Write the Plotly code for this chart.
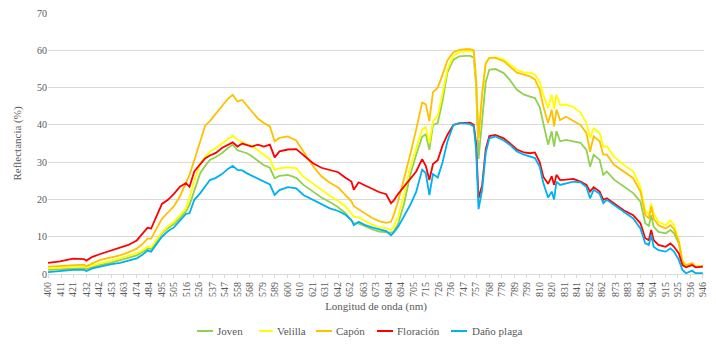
import plotly.graph_objects as go

wavelength = [400, 410, 421, 430, 432, 437, 443, 452, 460, 467, 474, 479, 483, 486, 490, 495,
              500, 505, 510, 515, 518, 522, 527, 531, 535, 540, 545, 550, 554, 558, 562, 566,
              570, 575, 580, 585, 589, 593, 600, 607, 613, 621, 628, 635, 642, 648, 653, 655,
              659, 664, 670, 676, 682, 686, 688, 692, 697, 702, 707, 712, 715, 718, 721, 725,
              729, 733, 738, 743, 748, 752, 755, 757, 759, 762, 765, 768, 773, 780, 785, 791,
              797, 802, 806, 810, 813, 817, 820, 822, 824, 827, 832, 838, 844, 849, 852, 855,
              860, 863, 866, 872, 880, 888, 894, 898, 901, 903, 905, 909, 915, 919, 922, 926,
              929, 932, 937, 940, 946]

joven = [1.1, 1.3, 1.5, 1.6, 1.3, 1.8, 2.4, 3.0, 3.7, 4.3, 5.0, 5.9, 6.8, 6.7, 8.7, 10.9,
         12.3, 13.4, 15.0, 16.8, 18.5, 22.5, 27.1, 29.0, 30.6, 31.4, 32.4, 33.8, 34.7, 33.2, 32.8, 32.4,
         31.6, 30.3, 29.2, 28.5, 25.7, 26.3, 26.6, 25.8, 23.9, 22.1, 20.5, 19.3, 17.9, 16.3, 14.5, 13.6,
         13.6, 12.9, 12.0, 11.4, 11.2, 11.1, 11.3, 13.5, 19.0, 26.5, 32.0, 36.8, 37.5, 33.3, 40.0, 40.5,
         46.5, 54.0, 57.5, 58.4, 58.5, 58.5, 58.0, 50.3, 30.9, 40.5, 51.5, 54.8, 55.0, 53.9, 52.1, 49.4,
         48.1, 47.6, 47.2, 44.8, 40.5, 34.7, 38.3, 34.2, 38.3, 35.6, 36.0, 35.6, 35.2, 33.3, 28.8, 32.0,
         30.6, 26.6, 27.5, 25.3, 23.5, 21.7, 19.4, 13.6, 12.9, 15.8, 12.7, 11.3, 10.9, 11.8, 10.9, 8.2,
         2.9, 2.2, 2.6, 2.0, 2.0]

velilla = [1.5, 1.8, 2.0, 2.1, 1.8, 2.3, 2.9, 3.6, 4.2, 4.9, 5.6, 6.4, 7.3, 7.2, 9.1, 11.2,
           12.8, 14.0, 15.8, 17.6, 20.5, 25.0, 29.8, 31.5, 32.9, 33.8, 35.0, 36.3, 37.1, 36.0, 35.4, 34.7,
           34.4, 33.2, 31.8, 30.8, 27.9, 28.4, 28.6, 28.4, 26.1, 24.3, 22.5, 21.0, 19.6, 18.1, 16.3, 15.4,
           15.2, 14.3, 13.3, 12.6, 12.3, 11.8, 12.5, 15.4, 21.5, 28.5, 34.0, 38.8, 39.4, 35.1, 41.0, 42.5,
           48.5, 54.8, 58.5, 59.5, 59.7, 59.8, 59.5, 52.0, 36.0, 48.0, 56.5, 58.0, 58.2, 57.5, 56.3, 54.8,
           54.0, 54.0, 53.5, 51.5, 48.0, 44.5, 48.1, 44.3, 48.1, 45.4, 45.4, 44.8, 43.3, 40.5, 36.5, 39.1,
           37.8, 34.2, 34.2, 31.5, 29.3, 27.5, 23.4, 17.1, 15.8, 18.9, 16.2, 14.0, 13.1, 14.4, 13.1, 9.1,
           3.7, 2.4, 2.9, 2.0, 2.1]

capon = [2.0, 2.2, 2.5, 2.5, 2.1, 2.9, 3.7, 4.4, 5.0, 5.8, 6.8, 8.1, 9.5, 9.5, 11.7, 14.8,
         16.5, 18.2, 20.8, 24.3, 26.6, 30.5, 35.5, 39.8, 41.0, 43.0, 45.3, 47.0, 48.1, 46.3, 46.7, 45.0,
         43.6, 41.7, 40.5, 39.6, 35.6, 36.5, 36.9, 35.8, 32.9, 28.9, 26.2, 24.5, 23.2, 21.3, 19.5, 18.2,
         17.4, 16.4, 15.1, 14.2, 13.7, 14.0, 15.5, 19.5, 25.5, 32.0, 38.8, 46.0, 45.5, 41.0, 48.8, 50.0,
         53.5, 57.3, 59.5, 60.1, 60.3, 60.3, 60.0, 52.0, 36.4, 48.5, 56.5, 58.0, 58.0, 57.1, 55.7, 54.0,
         53.5, 53.0, 52.2, 49.5, 45.0, 40.5, 44.1, 39.6, 44.1, 41.3, 42.2, 41.0, 40.0, 37.8, 32.8, 36.9,
         35.6, 32.0, 32.0, 29.3, 27.5, 25.7, 22.1, 15.8, 14.9, 18.1, 14.9, 13.1, 12.2, 13.1, 12.0, 8.7,
         3.3, 2.4, 2.9, 2.0, 2.1]

floracion = [3.0, 3.4, 4.1, 4.0, 3.6, 4.6, 5.3, 6.2, 7.0, 7.8, 9.0, 11.0, 12.4, 12.2, 15.0, 18.8,
             19.9, 21.5, 23.4, 24.4, 23.4, 27.5, 29.5, 31.0, 31.8, 32.5, 33.8, 34.6, 35.3, 34.2, 35.0, 34.6,
             34.2, 34.7, 34.2, 34.7, 31.3, 32.9, 33.4, 33.5, 31.8, 29.7, 28.5, 28.0, 27.3, 25.8, 24.8, 22.6,
             24.6, 23.8, 22.8, 22.0, 21.4, 19.0, 19.6, 21.5, 23.5, 25.5, 27.5, 30.8, 29.0, 25.2, 29.5, 30.5,
             34.5, 37.3, 40.0, 40.5, 40.6, 40.6, 40.0, 35.0, 20.3, 23.8, 33.5, 37.0, 37.3, 36.4, 35.1, 33.4,
             32.6, 32.4, 32.6, 30.0, 26.1, 24.2, 26.2, 23.9, 26.6, 25.2, 25.3, 25.5, 24.8, 23.9, 22.1, 23.3,
             22.1, 19.9, 20.3, 18.9, 17.1, 15.8, 13.6, 9.6, 9.1, 11.8, 9.1, 7.8, 7.3, 8.2, 7.3, 5.5,
             2.4, 1.8, 2.4, 1.8, 2.0]

dano_plaga = [0.5, 0.8, 1.1, 1.1, 0.8, 1.5, 2.0, 2.6, 3.0, 3.6, 4.2, 5.2, 6.3, 6.0, 7.8, 10.0,
              11.5, 12.5, 14.3, 16.1, 16.3, 19.9, 21.7, 23.5, 25.2, 25.8, 26.8, 28.2, 29.0, 27.9, 27.8, 27.0,
              26.4, 25.5, 24.7, 24.0, 21.2, 22.5, 23.3, 23.0, 21.2, 19.9, 18.6, 17.6, 16.9, 15.9, 14.5, 13.1,
              14.0, 13.2, 12.5, 11.9, 11.5, 10.4, 11.0, 12.7, 15.5, 18.5, 22.0, 28.0, 27.1, 21.2, 26.8, 25.9,
              30.0, 35.5, 40.0, 40.4, 40.4, 40.2, 39.6, 33.3, 17.4, 22.6, 32.5, 36.4, 36.9, 35.8, 34.7, 32.9,
              32.0, 31.5, 31.1, 28.8, 24.4, 20.5, 22.1, 20.0, 24.8, 23.9, 24.4, 24.8, 24.6, 23.3, 20.3, 22.6,
              21.5, 19.0, 19.9, 18.5, 16.7, 14.9, 12.2, 8.2, 7.8, 10.5, 7.3, 6.4, 6.0, 6.9, 6.0, 3.8,
              1.1, 0.2, 0.9, 0.2, 0.2]

tick_labels = [400, 411, 421, 432, 442, 453, 463, 474, 484, 495, 505, 516, 526, 537, 547, 558,
               568, 579, 589, 600, 610, 621, 631, 642, 652, 663, 673, 684, 694, 705, 715, 726,
               736, 747, 757, 768, 778, 789, 799, 810, 820, 831, 841, 852, 862, 873, 883, 894,
               904, 915, 925, 936, 946]

y_ticks = [0, 10, 20, 30, 40, 50, 60, 70]

series_names = ["Joven", "Velilla", "Capón", "Floración", "Daño plaga"]
series_values = [joven, velilla, capon, floracion, dano_plaga]
series_colors = ["#92D050", "#FFFF00", "#FFC000", "#FF0000", "#00B0F0"]

for s in series_values:
    assert len(s) == len(wavelength), len(s)

# page body has an 8px margin: figure is sized/offset to compensate
OFF = 8
W, H = 700, 332
ML, MR, MT, MB = 40, 4, 5, 66
PW, PH = W - ML - MR, H - MT - MB


def px_to_paper_x(wx):
    return (wx - OFF - ML) / PW


def px_to_paper_y(wy):
    return (H - MB - (wy - OFF)) / PH


fig = go.Figure()
for name, vals, col in zip(series_names, series_values, series_colors):
    fig.add_trace(go.Scatter(x=wavelength, y=vals, mode="lines", name=name,
                             line=dict(color=col, width=1.8), showlegend=False))

font_family = "Liberation Serif"
grey = "#595959"
grid = "#D9D9D9"

# manual legend (window pixel layout)
legend_line_x = [(197, 213), (259, 273), (316, 332), (377, 393), (451, 467)]
legend_text_x = [215, 275, 334, 395, 470]
legend_y = 331
shapes = []
annotations = []
for name, col, (x0, x1), tx in zip(series_names, series_colors, legend_line_x, legend_text_x):
    shapes.append(dict(type="line", xref="paper", yref="paper",
                       x0=px_to_paper_x(x0), x1=px_to_paper_x(x1),
                       y0=px_to_paper_y(legend_y), y1=px_to_paper_y(legend_y),
                       line=dict(color=col, width=2)))
    annotations.append(dict(text=name, xref="paper", yref="paper",
                            x=px_to_paper_x(tx), y=px_to_paper_y(legend_y),
                            xanchor="left", yanchor="middle", showarrow=False,
                            font=dict(family=font_family, size=11, color=grey)))

fig.update_layout(
    width=W, height=H,
    margin=dict(l=ML, r=MR, t=MT, b=MB, autoexpand=False),
    paper_bgcolor="white", plot_bgcolor="white",
    font=dict(family=font_family, size=10, color=grey),
    showlegend=False,
    shapes=shapes,
    annotations=annotations,
    xaxis=dict(range=[400, 947], tickmode="array", tickvals=tick_labels,
               ticktext=[str(t) for t in tick_labels], tickangle=-90,
               tickfont=dict(family=font_family, size=10, color=grey),
               ticklabeloverflow="allow",
               showgrid=False, showline=True, linecolor=grid, linewidth=1,
               ticks="outside", ticklen=3, tickcolor=grid, zeroline=False, automargin=False,
               title=dict(text="Longitud de onda (nm)",
                          font=dict(family=font_family, size=11, color=grey), standoff=6)),
    yaxis=dict(range=[0, 70.02], tickmode="array", tickvals=y_ticks,
               ticktext=[str(v) for v in y_ticks], ticklabeloverflow="allow",
               showgrid=True, gridcolor=grid, gridwidth=1, zeroline=False, showline=False,
               automargin=False,
               tickfont=dict(family=font_family, size=10, color=grey),
               title=dict(text="Reflectancia (%)",
                          font=dict(family=font_family, size=11, color=grey), standoff=13)),
)

fig.write_html("out.html")
